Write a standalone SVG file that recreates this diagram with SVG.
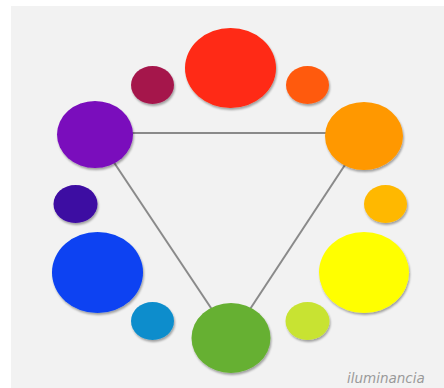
<svg xmlns="http://www.w3.org/2000/svg" width="444" height="388" viewBox="0 0 444 388">
<defs>
<style>
.edge{stroke:#8a8a8a;stroke-width:2;fill:none}
.dot{filter:url(#sh)}
.wm{font-family:"DejaVu Sans",sans-serif;font-style:italic;font-size:13.5px;fill:#9a9a9a}
</style>
<filter id="sh" x="-20%" y="-20%" width="140%" height="140%">
<feGaussianBlur in="SourceAlpha" stdDeviation="1.2"/>
<feOffset dx="1" dy="1.5"/>
<feComponentTransfer><feFuncA type="linear" slope="0.35"/></feComponentTransfer>
<feMerge><feMergeNode/><feMergeNode in="SourceGraphic"/></feMerge>
</filter>
</defs>
<rect x="0" y="0" width="444" height="388" fill="#ffffff"/>
<rect x="11" y="6" width="433" height="382" fill="#f2f2f2"/>
<g id="connectors">
<line class="edge" x1="130" y1="133" x2="328" y2="133"/>
<line class="edge" x1="95" y1="134" x2="231" y2="338"/>
<line class="edge" x1="364" y1="136" x2="231" y2="338"/>
</g>
<g id="red"><ellipse class="dot" cx="230.5" cy="68" rx="45.5" ry="40" fill="#ff2a12"/></g>
<g id="red-violet"><ellipse class="dot" cx="152.5" cy="85" rx="21.5" ry="19" fill="#a5164c"/></g>
<g id="red-orange"><ellipse class="dot" cx="307.5" cy="85" rx="21.5" ry="19" fill="#ff5a0c"/></g>
<g id="violet"><ellipse class="dot" cx="95" cy="134.5" rx="38" ry="33.5" fill="#7a0cbc"/></g>
<g id="orange"><ellipse class="dot" cx="364" cy="136" rx="39" ry="34" fill="#ff9800"/></g>
<g id="blue-violet"><ellipse class="dot" cx="75.5" cy="204" rx="22" ry="19" fill="#3c08a2"/></g>
<g id="yellow-orange"><ellipse class="dot" cx="385.5" cy="204" rx="21.5" ry="19" fill="#ffb806"/></g>
<g id="blue"><ellipse class="dot" cx="97.5" cy="272.5" rx="45.5" ry="40.5" fill="#0842f2"/></g>
<g id="yellow"><ellipse class="dot" cx="364" cy="272.5" rx="45" ry="40.5" fill="#ffff00"/></g>
<g id="blue-green"><ellipse class="dot" cx="152.5" cy="321" rx="21.5" ry="19" fill="#0a8dcc"/></g>
<g id="yellow-green"><ellipse class="dot" cx="307.5" cy="321" rx="22" ry="19" fill="#c8e332"/></g>
<g id="green"><ellipse class="dot" cx="231" cy="338" rx="39.5" ry="35" fill="#66b032"/></g>
<text class="wm" x="347" y="383">iluminancia</text>
</svg>
